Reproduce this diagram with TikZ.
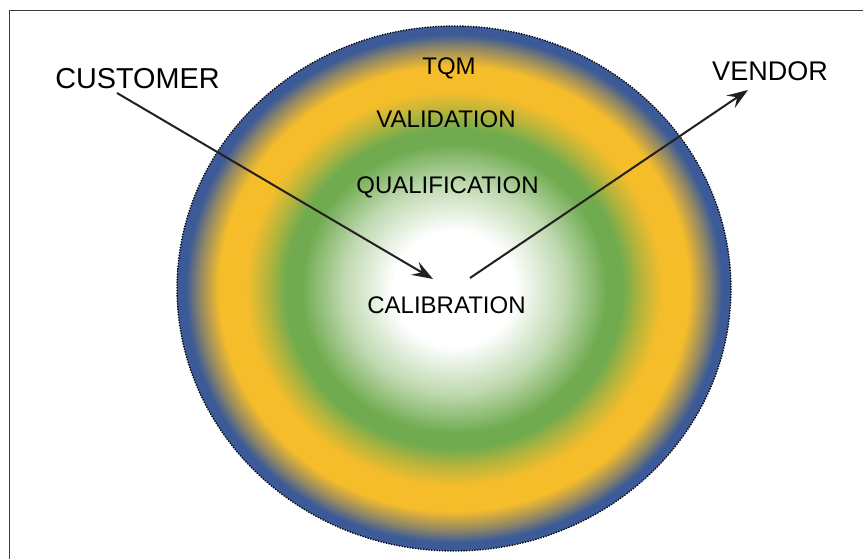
\documentclass[tikz,border=0pt]{standalone}
\usepackage{fontspec}
\setmainfont{Liberation Sans}
\usetikzlibrary{arrows.meta}
\definecolor{ringblue}{HTML}{3B5A97}
\definecolor{ringyellow}{HTML}{F6BD2B}
\definecolor{ringgreen}{HTML}{70AB4F}
\definecolor{framegray}{HTML}{3A3A3A}
\definecolor{inkc}{HTML}{231F20}
\colorlet{palegreen}{ringgreen!45!white}
\colorlet{olive}{ringyellow!55!ringgreen}
\colorlet{dusk}{ringyellow!45!ringblue}
\pgfdeclareradialshading{rings}{\pgfpoint{0bp}{0bp}}{color(0bp)=(white); color(5.5bp)=(white); color(10bp)=(palegreen); color(13.8bp)=(ringgreen); color(15.2bp)=(ringgreen); color(17bp)=(olive); color(18.8bp)=(ringyellow); color(21.2bp)=(ringyellow); color(23bp)=(dusk); color(24.2bp)=(ringblue); color(25bp)=(ringblue); color(50bp)=(ringblue)}
\tikzset{
  ringlabel/.style={font=\fontsize{24}{28}\selectfont, text=black, inner sep=0pt},
  sidelabel/.style={font=\fontsize{27}{31}\selectfont, text=black, inner sep=0pt},
  flowarrow/.style={draw=inkc, line width=2pt, -{Stealth[length=21pt, width=15pt, inset=8pt]}},
  framebox/.style={draw=framegray, line width=1pt},
  disc/.style={shading=rings, draw=black, line width=1.3pt, dash pattern=on 1.3pt off 1.4pt}
}
\begin{document}
\begin{tikzpicture}[x=1pt,y=-1pt]
\useasboundingbox (0,0) rectangle (863,559);
\clip (0,0) rectangle (863,559);
\path[framebox] (9.5,11) rectangle (890,590);
\path[disc] (454,288.5) ellipse [x radius=277, y radius=262.5];
\node[ringlabel] (tqm) at (449,68) {TQM};
\node[ringlabel] (val) at (446,119) {VALIDATION};
\node[ringlabel] (qual) at (447.5,187) {QUALIFICATION};
\node[ringlabel] (cal) at (446.5,305) {CALIBRATION};
\node[sidelabel, font=\fontsize{28.8}{33}\selectfont] (cust) at (137.5,79) {CUSTOMER};
\node[sidelabel] (vend) at (770,71) {VENDOR};
\coordinate (custout) at (117,93);
\coordinate (calin) at (433,279);
\coordinate (calout) at (470,278);
\coordinate (vendin) at (748,90);
\draw[flowarrow] (custout) -- (calin);
\draw[flowarrow] (calout) -- (vendin);
\end{tikzpicture}
\end{document}
